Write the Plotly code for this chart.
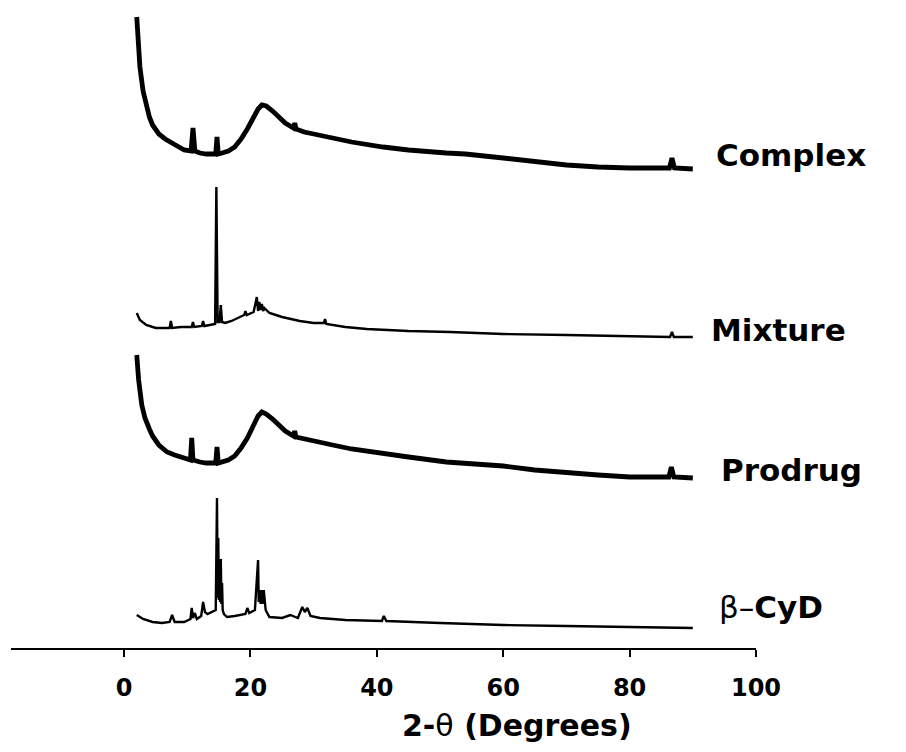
import plotly.graph_objects as go

# Powder X-ray diffraction patterns, stacked with vertical offsets (a.u.)
two_theta_complex = [2.0, 2.2, 2.5, 3.0, 3.5, 4.0, 4.5, 5.5, 6.5, 7.5, 8.5, 9.5, 10.6, 10.9,
                     11.2, 12.0, 13.0, 14.5, 14.7, 14.9, 15.5, 16.5, 17.5, 18.5, 19.5, 20.5,
                     21.2, 21.8, 22.5, 23.5, 24.5, 25.5, 26.8, 27.0, 27.2, 28.5, 30.0, 33.0,
                     36.0, 41.0, 45.0, 51.0, 54.0, 60.0, 65.0, 70.0, 75.0, 80.0, 86.3, 86.7,
                     87.1, 90.0]
int_complex = [152, 130, 102, 78, 62, 52, 44, 35, 30, 26, 22, 19, 18, 41,
               18, 16, 15, 15, 32, 15, 16, 18, 22, 30, 40, 52,
               60, 64, 63, 58, 52, 46, 41, 46, 40, 37, 35, 31,
               27, 22, 19, 16, 15, 11, 7, 4, 2, 1, 1, 11,
               1, 0]

two_theta_mixture = [2.0, 2.5, 3.5, 5.0, 6.8, 7.2, 7.4, 7.6, 9.0, 10.7, 10.9, 11.1, 12.3,
                     12.5, 12.7, 13.8, 14.4, 14.6, 14.8, 15.1, 15.3, 15.5, 16.0, 17.0, 18.5,
                     19.0, 19.2, 19.4, 20.5, 21.0, 21.2, 21.4, 21.6, 21.8, 22.0, 22.2, 23.0,
                     25.0, 27.8, 30.0, 31.6, 31.8, 32.0, 35.0, 38.4, 45.0, 51.6, 60.0, 70.0,
                     80.0, 86.4, 86.7, 87.0, 90.0]
int_mixture = [24, 17, 12, 9, 9, 9, 16, 9, 10, 10, 15, 10, 11,
               16, 11, 12, 13, 150, 15, 15, 32, 15, 14, 16, 20,
               22, 26, 22, 25, 40, 26, 35, 27, 33, 26, 29, 24,
               20, 16, 14, 14, 18, 13, 10, 8, 6, 5, 3, 2,
               1, 0, 5, 0, 0]

two_theta_prodrug = [2.0, 2.3, 2.8, 3.3, 4.0, 4.5, 5.5, 6.8, 8.0, 9.3, 10.5, 10.7, 10.9,
                     12.0, 13.0, 14.5, 14.7, 14.9, 15.5, 16.5, 17.5, 18.5, 19.5, 20.5, 21.2,
                     21.8, 22.5, 23.5, 24.5, 25.5, 26.8, 27.0, 27.2, 28.5, 30.0, 33.0, 36.0,
                     41.0, 45.0, 51.0, 54.0, 60.0, 65.0, 70.0, 75.0, 80.0, 86.2, 86.6, 87.0,
                     90.0]
int_prodrug = [123, 98, 73, 60, 49, 42, 33, 26, 23, 20, 18, 40, 18,
               16, 15, 15, 31, 15, 16, 18, 22, 30, 40, 53, 62,
               66, 64, 59, 53, 47, 42, 47, 41, 39, 37, 33, 29,
               24, 21, 16, 15, 12, 8, 5, 3, 1, 1, 11, 1,
               0]

two_theta_cyd = [2.0, 3.0, 4.5, 6.0, 7.2, 7.6, 8.0, 9.5, 10.5, 10.7, 10.9, 11.2, 11.5,
                 12.2, 12.5, 12.8, 13.2, 14.0, 14.5, 14.7, 14.8, 14.9, 15.0, 15.1, 15.2,
                 15.3, 15.4, 15.5, 15.6, 15.8, 16.3, 17.5, 19.2, 19.5, 19.8, 20.7, 21.2,
                 21.3, 21.5, 21.6, 21.8, 21.9, 22.1, 22.4, 23.0, 25.0, 26.3, 27.5, 28.2,
                 28.6, 29.0, 29.5, 31.0, 35.0, 40.8, 41.1, 41.5, 50.0, 60.0, 70.0, 80.0,
                 90.0]
int_cyd = [13, 9, 6, 5, 6, 13, 6, 6, 9, 20, 10, 15, 9,
           12, 26, 16, 14, 16, 18, 130, 30, 90, 28, 55, 26,
           69, 24, 45, 18, 14, 11, 12, 14, 20, 15, 18, 68,
           26, 38, 24, 38, 24, 38, 18, 11, 10, 13, 10, 21,
           16, 20, 12, 10, 8, 7, 12, 7, 5, 3, 2, 1,
           0]

offsets = {"Complex": 479, "Mixture": 311, "Prodrug": 170, "β-CyD": 20}
series = [
    ("Complex", two_theta_complex, int_complex, 4.8),
    ("Mixture", two_theta_mixture, int_mixture, 2.4),
    ("Prodrug", two_theta_prodrug, int_prodrug, 4.8),
    ("β-CyD", two_theta_cyd, int_cyd, 2.4),
]

x_ticks = [0, 20, 40, 60, 80, 100]

fig = go.Figure()
for name, xs, ys, lw in series:
    off = offsets[name]
    fig.add_trace(go.Scatter(
        x=xs, y=[v + off for v in ys], mode="lines", name=name,
        line=dict(color="black", width=lw), showlegend=False,
    ))

label_font = dict(family="DejaVu Sans", size=31, color="black", weight="bold")
labels = [
    ("Complex", 93.4, 493),
    ("Mixture", 92.5, 318),
    ("Prodrug", 94.2, 178),
    ("β–<b>CyD</b>", 93.9, 41),
]
for text, xv, yv in labels:
    font = dict(label_font)
    if "<b>" in text:
        font["weight"] = "normal"
    fig.add_annotation(x=xv, y=yv, xref="x", yref="y", text=text, showarrow=False,
                       xanchor="left", yanchor="middle", font=font)

# Axis title placed under the tick labels
fig.add_annotation(x=0.679, y=-0.121, xref="paper", yref="paper",
                   text="<b>2-</b>θ<b> (Degrees)</b>",
                   showarrow=False, xanchor="center", yanchor="middle",
                   font=dict(family="DejaVu Sans", size=30, color="black"))

fig.update_xaxes(
    range=[-17.9, 100], tickvals=x_ticks, ticktext=[str(t) for t in x_ticks],
    showline=True, linecolor="black", linewidth=2,
    ticks="outside", ticklen=7, tickwidth=2, tickcolor="black",
    showgrid=False, zeroline=False,
    tickfont=dict(family="DejaVu Sans", size=24, color="black", weight="bold"),
    ticklabelstandoff=10,
)
fig.update_yaxes(range=[0, 638], visible=False, showgrid=False, zeroline=False)

fig.update_layout(
    width=906, height=752,
    margin=dict(l=11, r=150, t=10, b=104),
    paper_bgcolor="white", plot_bgcolor="white",
)

fig.write_html("out.html")
